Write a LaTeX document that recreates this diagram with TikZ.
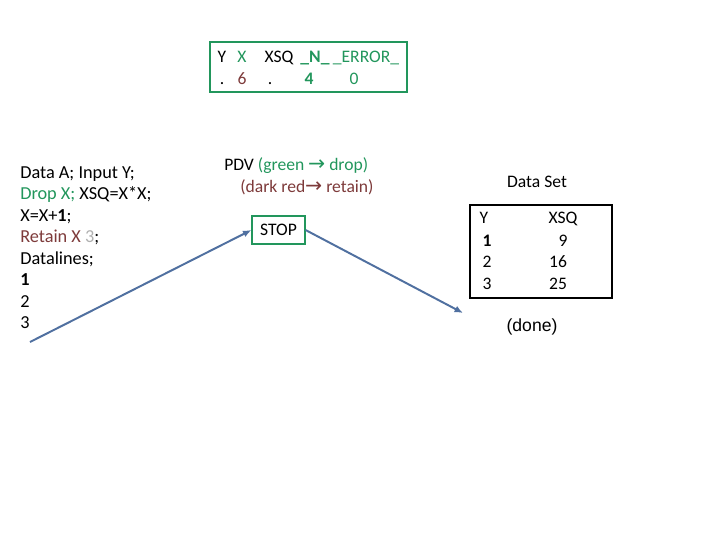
\documentclass[tikz,border=0pt]{standalone}
\usepackage{fontspec}
\setmainfont{Carlito}
\newfontfamily\arialfont{Liberation Sans}
\newfontfamily\symfont{DejaVu Sans}
\usepackage{xcolor}
\usetikzlibrary{arrows.meta, positioning}
\definecolor{SasGreen}{RGB}{34,150,92}
\definecolor{DarkRed}{RGB}{125,58,58}
\definecolor{LightGray}{RGB}{175,175,175}
\definecolor{FlowBlue}{RGB}{80,112,160}
\newcommand{\sarrow}{{\symfont\fontsize{14.5}{15}\selectfont\char"2192}}

\begin{document}
\begin{tikzpicture}[
  x=0.025cm, y=-0.025cm,
  font=\fontsize{12.5}{15}\selectfont,
  txt/.style={inner sep=0pt, anchor=base west},
  code/.style={txt, font=\fontsize{13}{15}\selectfont},
  cell/.style={inner sep=0pt, anchor=base},
  gbox/.style={draw=SasGreen, line width=0.8pt},
  flow/.style={-{Latex[length=6pt, width=5pt]}, FlowBlue, line width=1.4pt},
]
\useasboundingbox (0,0) rectangle (720,540);

% PDV box at the top
\draw[gbox] (210,42) rectangle (407,92);
\node[cell] (hy)   at (222,62) {Y};
\node[cell, text=SasGreen] (hx) at (242,62) {X};
\node[cell] (hxsq) at (279,62) {XSQ};
\node[cell, text=SasGreen] (hn) at (315,62) {\textbf{\_N\_}};
\node[cell, text=SasGreen] (herr) at (366,62) {\_ERROR\_};
\node[cell] (vy)   at (222,84) {.};
\node[cell, text=DarkRed] (vx) at (242,84) {6};
\node[cell] (vxsq) at (270,84) {.};
\node[cell, text=SasGreen] (vn) at (309,84) {\textbf{4}};
\node[cell, text=SasGreen] (verr) at (354,84) {0};

% program text
\node[code] (l1) at (20,178) {Data A; Input Y;};
\node[code] (l2) at (20,199.5) {\textcolor{SasGreen}{Drop X;} XSQ=X*X;};
\node[code] (l3) at (20,221) {X=X+\textbf{1};};
\node[code] (l4) at (20,242.5) {\textcolor{DarkRed}{Retain X} \textcolor{LightGray}{3};};
\node[code] (l5) at (20,264) {Datalines;};
\node[code] (l6) at (20,285.5) {\textbf{1}};
\node[code] (l7) at (20,307) {2};
\node[code] (l8) at (20,328.5) {3};

% legend
\node[txt] (pdv) at (224,170) {PDV \textcolor{SasGreen}{(green \sarrow{} drop)}};
\node[txt, text=DarkRed] (leg) at (240,192) {(dark red\sarrow{} retain)};

% STOP box
\node[gbox, minimum width=53*0.025cm, minimum height=28*0.025cm,
      inner sep=0pt] (stop) at (278.5,230) {STOP};
\coordinate (start) at (30,342);
\coordinate (finish) at (463,313);

% data set
\node (dstitle) at (537,182) {Data Set};
\draw[black, line width=0.8pt] (470,205) rectangle (612,298);
\node[cell] (ty)   at (484,223) {Y};
\node[cell] (txsq) at (563,223) {XSQ};
\node[cell] (t1y)  at (487,246) {\textbf{1}};
\node[cell] (t1x)  at (563,246) {9};
\node[cell] (t2y)  at (487,267) {2};
\node[cell] (t2x)  at (558,267) {16};
\node[cell] (t3y)  at (487,289) {3};
\node[cell] (t3x)  at (558,289) {25};
\node[font=\arialfont\fontsize{12.5}{15}\selectfont] (done) at (532,327) {(done)};

% flow
\draw[flow] (start) -- (stop.west);
\draw[flow] (stop.east) -- (finish);

\end{tikzpicture}
\end{document}
